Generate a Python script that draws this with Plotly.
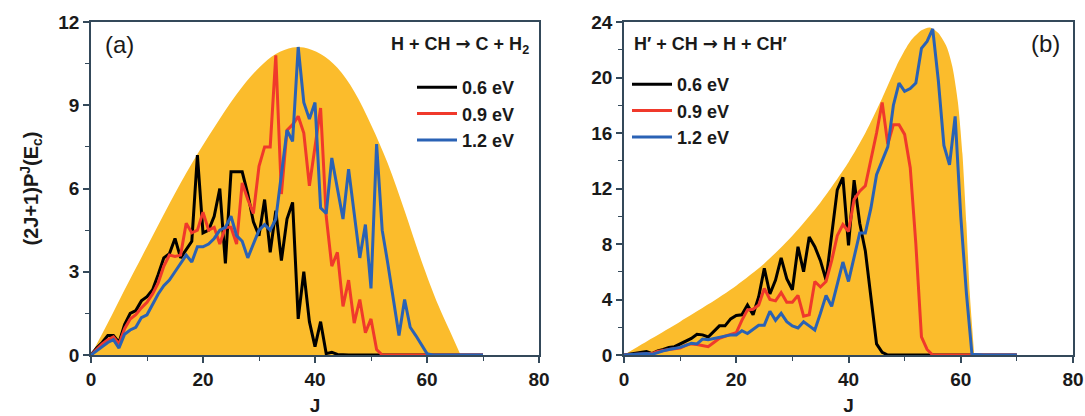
import plotly.graph_objects as go

# ---------------- data ----------------
J = list(range(0, 71))

# panel (a): H + CH -> C + H2
env_a_J = [0, 3, 6, 10, 14, 18, 22, 26, 30, 33, 36, 38, 41, 44, 47, 50, 53, 56, 59, 62, 64, 66]
env_a_v = [0, 1.15, 2.35, 3.9, 5.45, 6.9, 8.2, 9.4, 10.35, 10.85, 11.08, 11.08, 10.85, 10.35,
           9.5, 8.3, 6.9, 5.2, 3.4, 1.8, 0.9, 0]

a_06 = [0, 0.25, 0.45, 0.7, 0.7, 0.45, 1.1, 1.5, 1.6, 1.95, 2.1, 2.35, 2.9, 3.5, 3.65, 4.2,
        3.5, 3.8, 4.1, 7.2, 4.4, 4.5, 5.0, 6.0, 3.3, 6.6, 6.6, 6.6, 5.8, 4.8, 4.3, 5.6, 3.7,
        5.2, 3.4, 4.9, 5.5, 1.3, 3.0, 1.2, 0.3, 1.2, 0.05, 0.1, 0.02] + [0] * 26
a_09 = [0, 0.2, 0.4, 0.55, 0.65, 0.4, 0.95, 1.3, 1.45, 1.7, 1.9, 2.2, 2.6, 3.2, 3.6, 3.55,
        3.6, 4.75, 4.4, 4.5, 5.15, 4.5, 4.6, 4.0, 4.6, 4.6, 4.0, 6.2, 5.6, 5.1, 6.8, 7.5, 7.5,
        10.8, 5.8, 8.1, 8.3, 8.6, 8.0, 6.1, 7.5, 8.9, 5.0, 3.2, 3.7, 1.75, 2.7, 1.15, 2.0,
        0.8, 1.3, 0.2] + [0] * 19
a_12 = [0, 0.15, 0.3, 0.45, 0.55, 0.25, 0.75, 0.9, 1.0, 1.35, 1.45, 1.85, 2.2, 2.5, 2.7,
        3.0, 3.3, 3.6, 3.35, 3.9, 3.9, 4.0, 4.2, 4.5, 4.6, 5.0, 4.3, 4.1, 3.5, 4.0, 4.5, 4.7,
        4.5, 4.9, 6.5, 8.1, 7.7, 11.1, 9.1, 8.5, 9.1, 5.3, 5.1, 7.1, 6.0, 4.9, 6.7, 5.0, 3.5,
        4.7, 2.4, 7.6, 4.5, 3.3, 2.0, 0.7, 2.0, 1.0, 0.7, 0.35, 0.05] + [0] * 10

# panel (b): H' + CH -> H + CH'
env_b_J = [0, 5, 10, 15, 20, 25, 30, 35, 40, 43, 46, 49, 51, 53, 54.5, 56, 57.5, 58.5,
           59.5, 60.3, 61, 61.6, 62.4]
env_b_v = [0, 1.2, 2.4, 3.65, 5.0, 6.6, 8.6, 11.0, 13.9, 16.0, 18.5, 21.2, 22.6, 23.4, 23.6,
           23.2, 22.2, 20.8, 18.2, 14.5, 9.5, 4.5, 0]

b_06 = [0, 0.05, 0.1, 0.2, 0.25, 0.1, 0.3, 0.4, 0.55, 0.6, 0.8, 1.0, 1.2, 1.5, 1.45, 1.3,
        1.7, 2.1, 2.1, 2.6, 2.85, 2.9, 3.6, 2.9, 4.2, 6.25, 4.4, 5.4, 7.0, 5.5, 4.7, 7.8, 6.0,
        8.5, 7.8, 6.8, 5.4, 8.5, 11.9, 12.8, 7.9, 12.6, 9.5, 7.5, 4.0, 0.8, 0.2] + [0] * 24
b_09 = [0, 0.02, 0.05, 0.1, 0.1, 0.1, 0.25, 0.35, 0.4, 0.45, 0.5, 0.7, 0.8, 0.75, 0.7, 0.6,
        0.9, 1.2, 1.35, 1.5, 1.6, 2.5, 3.25, 3.3, 3.6, 4.8, 4.0, 3.9, 4.5, 3.8, 3.8, 4.3, 2.8,
        2.9, 5.3, 4.9, 5.3, 6.8, 8.6, 9.4, 8.9, 11.2, 11.8, 12.2, 14.0, 16.0, 18.2, 15.2,
        16.6, 16.6, 15.9, 13.5, 8.0, 1.3, 0.4, 0] + [0] * 15
b_12 = [0, 0.02, 0.05, 0.1, 0.1, 0.05, 0.2, 0.3, 0.4, 0.45, 0.55, 0.7, 0.85, 0.8, 1.15,
        1.1, 1.2, 1.3, 1.4, 1.45, 1.45, 1.75, 1.55, 1.85, 2.15, 2.15, 3.15, 2.5, 3.0, 2.4,
        2.1, 1.95, 2.4, 2.1, 1.8, 3.0, 4.3, 3.5, 5.0, 6.7, 5.3, 7.0, 8.8, 8.8, 10.6, 13.0,
        14.0, 15.0, 18.0, 19.6, 19.0, 19.2, 19.6, 22.1, 22.6, 23.5, 19.8, 15.1, 13.7, 17.2,
        10.0, 4.5, 0.05] + [0] * 8

labels = ["0.6 eV", "0.9 eV", "1.2 eV"]
colors = ["#000000", "#f0392b", "#2a62b5"]
FILL = "#FBBC2C"
AX = "#34495a"
TXT = "#1a1a1a"
FONT = "Arial, Liberation Sans, sans-serif"
ARROW = "<span style='font-family:DejaVu Sans'>\u2192</span>"

fig = go.Figure()

# envelopes
fig.add_trace(go.Scatter(x=env_a_J, y=env_a_v, mode="lines", line=dict(width=0, shape="spline", smoothing=1.0),
                         fill="tozeroy", fillcolor=FILL, showlegend=False, hoverinfo="skip",
                         xaxis="x", yaxis="y"))
fig.add_trace(go.Scatter(x=env_b_J, y=env_b_v, mode="lines", line=dict(width=0, shape="spline", smoothing=0.7),
                         fill="tozeroy", fillcolor=FILL, showlegend=False, hoverinfo="skip",
                         xaxis="x2", yaxis="y2"))

for ys, lab, col in zip([a_06, a_09, a_12], labels, colors):
    fig.add_trace(go.Scatter(x=J, y=ys, mode="lines", name=lab, line=dict(color=col, width=3),
                             xaxis="x", yaxis="y", legend="legend"))
for ys, lab, col in zip([b_06, b_09, b_12], labels, colors):
    fig.add_trace(go.Scatter(x=J, y=ys, mode="lines", name=lab, line=dict(color=col, width=3),
                             xaxis="x2", yaxis="y2", legend="legend2"))

tickfont = dict(family=FONT, size=19, color=TXT, weight="bold")

def xax(domain, anchor):
    return dict(domain=domain, anchor=anchor, range=[0, 80], tickvals=[0, 20, 40, 60, 80],
                ticks="outside", ticklen=6, tickwidth=1.5, tickcolor=AX,
                minor=dict(dtick=10, ticks="outside", ticklen=4, tickwidth=1.2, tickcolor=AX),
                showline=True, linecolor=AX, linewidth=1.5, mirror=True, showgrid=False,
                zeroline=False, tickfont=tickfont, automargin=False,
                title=dict(text="J", font=dict(family=FONT, size=19, color=TXT, weight="bold"), standoff=10))

def yax(domain, anchor, rng, dt):
    return dict(domain=domain, anchor=anchor, range=rng, dtick=dt, tick0=0,
                ticks="outside", ticklen=6, tickwidth=1.5, tickcolor=AX,
                minor=dict(dtick=dt / 2, ticks="outside", ticklen=4, tickwidth=1.2, tickcolor=AX),
                showline=True, linecolor=AX, linewidth=1.5, mirror=True, showgrid=False,
                zeroline=False, tickfont=tickfont, automargin=False)

W, H = 1085, 416
ydom = [1 - 355 / H, 1 - 22 / H]
xa = [91 / W, 539 / W]
xb = [624 / W, 1073 / W]

ya = yax(ydom, "x", [0, 12], 3)
ya["title"] = dict(text="(2J+1)P<sup>J</sup>(E<sub>c</sub>)",
                   font=dict(family=FONT, size=20, color=TXT, weight="bold"), standoff=14)

legend_common = dict(font=dict(family=FONT, size=18, color=TXT, weight="bold"),
                     bgcolor="rgba(0,0,0,0)", borderwidth=0, itemwidth=40,
                     tracegroupgap=0, xanchor="left", yanchor="top")

fig.update_layout(
    width=W, height=H, margin=dict(l=0, r=0, t=0, b=0),
    paper_bgcolor="white", plot_bgcolor="white",
    xaxis=xax(xa, "y"), yaxis=ya,
    xaxis2=xax(xb, "y2"), yaxis2=yax(ydom, "x2", [0, 24], 4),
    legend=dict(x=412 / W, y=1 - 69 / H, **legend_common),
    legend2=dict(x=627 / W, y=1 - 66 / H, **legend_common),
    annotations=[
        dict(text="(a)", x=103 / W, y=1 - 45 / H, xref="paper", yref="paper", xanchor="left",
             yanchor="middle", showarrow=False, font=dict(family=FONT, size=24, color=TXT)),
        dict(text="H + CH " + ARROW + " C + H<sub>2</sub>", x=531 / W, y=1 - 45 / H, xref="paper", yref="paper",
             xanchor="right", yanchor="middle", showarrow=False,
             font=dict(family=FONT, size=18, color=TXT, weight="bold")),
        dict(text="(b)", x=1062 / W, y=1 - 44 / H, xref="paper", yref="paper", xanchor="right",
             yanchor="middle", showarrow=False, font=dict(family=FONT, size=24, color=TXT)),
        dict(text="H\u2032 + CH " + ARROW + " H + CH\u2032", x=632 / W, y=1 - 44 / H, xref="paper", yref="paper",
             xanchor="left", yanchor="middle", showarrow=False,
             font=dict(family=FONT, size=18, color=TXT, weight="bold")),
    ],
)

fig.write_html("out.html")
